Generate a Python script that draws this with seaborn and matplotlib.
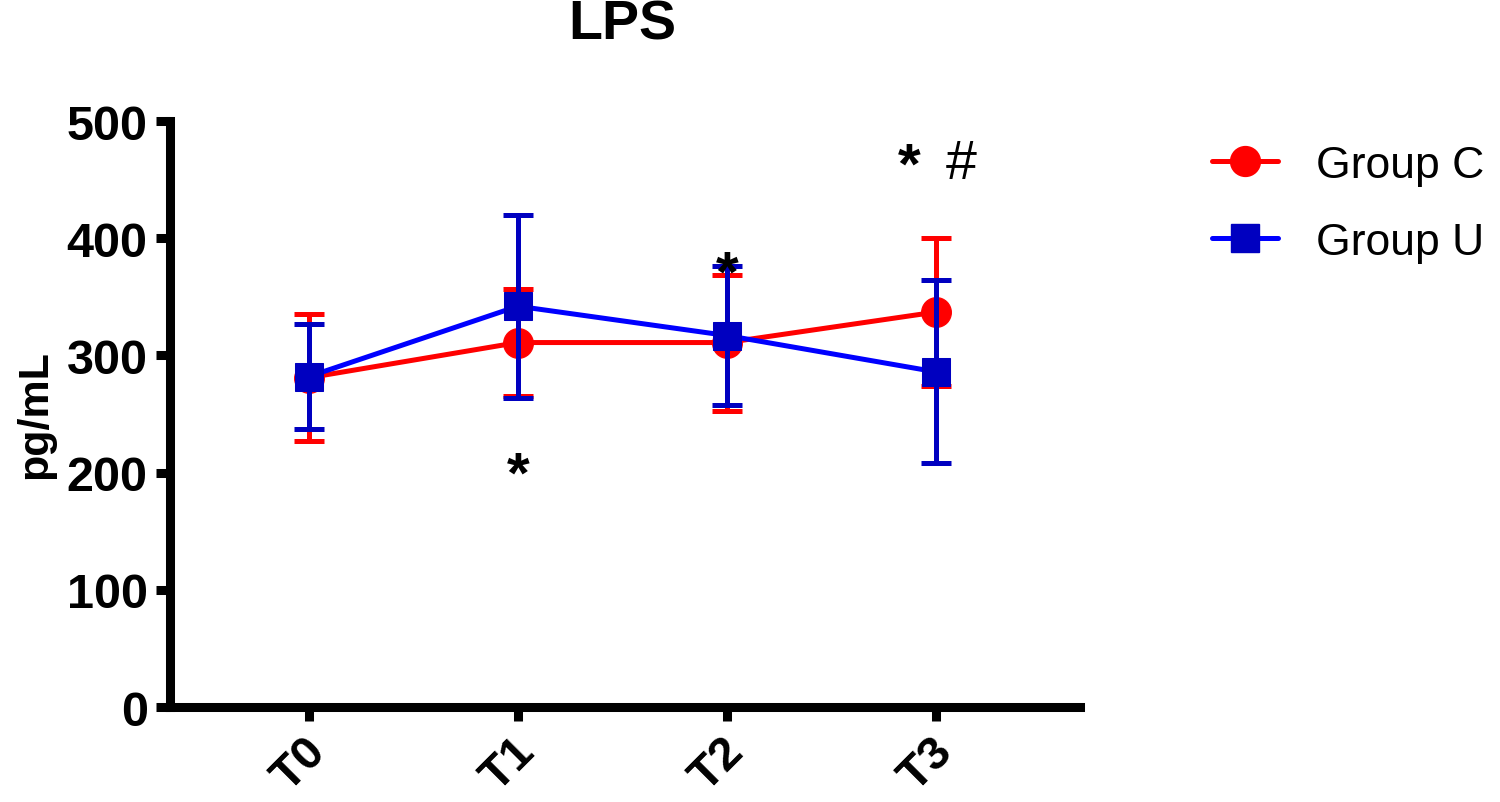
import matplotlib
matplotlib.use("Agg")
import matplotlib.pyplot as plt
import seaborn as sns
import pandas as pd
import numpy as np
from matplotlib.lines import Line2D
import matplotlib.transforms as mtransforms

# ---- data ----
timepoints = ["T0", "T1", "T2", "T3"]
group_c_mean = [281, 311, 311, 337]
group_c_sd = [54, 46, 58, 63]
group_u_mean = [282, 342, 317, 286]
group_u_sd = [45, 78, 59, 78]
groups = ["Group C", "Group U"]
y_ticks = [0, 100, 200, 300, 400, 500]
star_marks = [(1.0, 197), (2.0, 368), (2.875, 460)]
hash_marks = [(3.12, 463)]

sns.set_theme(style="ticks")
plt.rcParams["font.family"] = ["Liberation Sans", "DejaVu Sans"]
for k in ["text.color", "axes.labelcolor", "xtick.color", "ytick.color", "axes.edgecolor"]:
    plt.rcParams[k] = "black"

df = pd.DataFrame({
    "time": timepoints * 2,
    "mean": group_c_mean + group_u_mean,
    "sd": group_c_sd + group_u_sd,
    "group": [groups[0]] * 4 + [groups[1]] * 4,
})

fig = plt.figure(figsize=(15, 8.03), dpi=100)
ax = fig.add_axes([0.1133, 0.1183, 0.6067, 0.7297])

line_colors = {"Group C": "#FF0000", "Group U": "#0000FF"}
mark_colors = {"Group C": "#FF0000", "Group U": "#0000C0"}
markers = {"Group C": "o", "Group U": "s"}
msize = {"Group C": 21.5, "Group U": 20.5}
xpos = {t: i for i, t in enumerate(timepoints)}

for g in groups:
    sub = df[df["group"] == g]
    xs = [xpos[t] for t in sub["time"]]
    ax.errorbar(xs, sub["mean"], yerr=sub["sd"], fmt="none",
                ecolor=mark_colors[g], elinewidth=3.6, capsize=11,
                capthick=3.6, zorder=2 if g == "Group C" else 4)
    sns.lineplot(x=xs, y=sub["mean"].values, ax=ax, color=line_colors[g],
                 linewidth=3.6, marker=markers[g], markersize=msize[g],
                 markerfacecolor=mark_colors[g], markeredgecolor=mark_colors[g],
                 zorder=3 if g == "Group C" else 5, legend=False)

ax.set_xlim(-0.665, 3.69)
ax.set_ylim(0, 500)
ax.set_yticks(y_ticks)
ax.set_xticks(range(len(timepoints)))
ax.set_xticklabels(timepoints, rotation=45, ha="right", va="center",
                   rotation_mode="anchor", fontsize=34, fontweight="bold")
ax.set_yticklabels([str(v) for v in y_ticks], fontsize=35, fontweight="bold")
ax.tick_params(axis="both", length=10, width=6.5, color="black", pad=6)
ax.tick_params(axis="x", pad=17)
offset = mtransforms.ScaledTranslation(10 / 100, 0, fig.dpi_scale_trans)
for lab in ax.get_xticklabels():
    lab.set_transform(lab.get_transform() + offset)
for s in ["left", "bottom"]:
    ax.spines[s].set_linewidth(6.5)
    ax.spines[s].set_color("black")
    ax.spines[s].set_capstyle("projecting")
ax.spines["top"].set_visible(False)
ax.spines["right"].set_visible(False)

ax.set_ylabel("pg/mL", fontsize=31, fontweight="bold", labelpad=8)
ax.set_xlabel("")
fig.text(0.415, 0.968, "LPS", fontsize=40, fontweight="bold", ha="center", va="center")

for xv, yv in star_marks:
    ax.text(xv, yv, "*", fontsize=42, fontweight="bold", ha="center", va="center",
            color="black", zorder=10)
for xv, yv in hash_marks:
    ax.text(xv, yv, "#", fontsize=40, ha="center", va="center", color="black", zorder=10)

handles = [Line2D([0], [0], color=line_colors[g], linewidth=3.6, marker=markers[g],
                  markersize=msize[g],
                  markerfacecolor=mark_colors[g], markeredgecolor=mark_colors[g])
           for g in groups]
fig.legend(handles, groups, loc="center left", bbox_to_anchor=(0.808, 0.745),
           frameon=False, fontsize=32, handlelength=1.48, handletextpad=0.86,
           labelspacing=0.8, borderpad=0, borderaxespad=0)

fig.savefig("out.png", dpi=100, facecolor="white")
